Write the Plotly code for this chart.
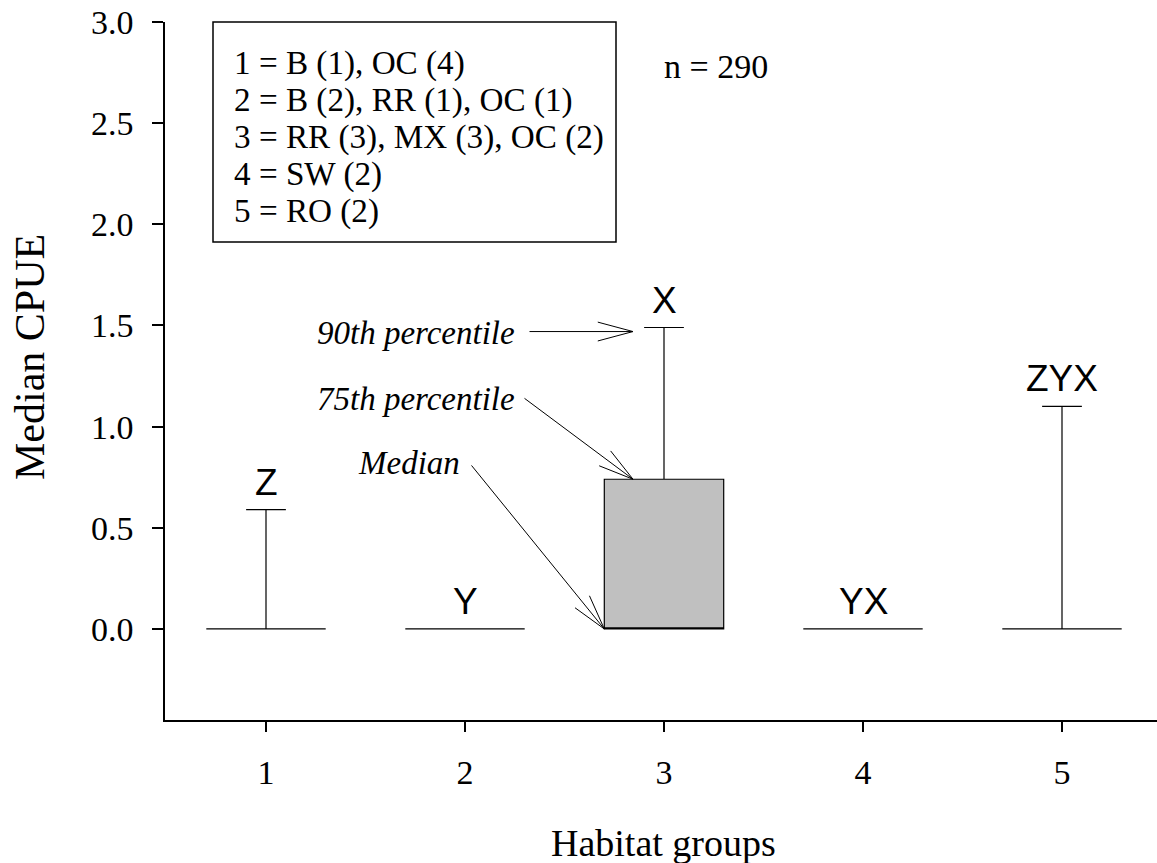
import math
import plotly.graph_objects as go

# ---------------- data ----------------
groups = [1, 2, 3, 4, 5]
group_labels = ["1", "2", "3", "4", "5"]
p10 = [0.0, 0.0, 0.0, 0.0, 0.0]
q1 = [0.0, 0.0, 0.0, 0.0, 0.0]
medians = [0.0, 0.0, 0.0, 0.0, 0.0]
q3 = [0.0, 0.0, 0.74, 0.0, 0.0]
p90 = [0.59, 0.0, 1.49, 0.0, 1.10]
sig_letters = ["Z", "Y", "X", "YX", "ZYX"]
y_ticks = [0.0, 0.5, 1.0, 1.5, 2.0, 2.5, 3.0]
y_tick_labels = ["0.0", "0.5", "1.0", "1.5", "2.0", "2.5", "3.0"]
key_lines = [
    "1 = B (1), OC (4)",
    "2 = B (2), RR (1), OC (1)",
    "3 = RR (3), MX (3), OC (2)",
    "4 = SW (2)",
    "5 = RO (2)",
]
n_text = "n = 290"

SERIF = "Liberation Serif, Times New Roman, serif"
SANS = "Liberation Sans, Arial, sans-serif"

# the page body margin is removed (post_script), so figure == page
W, H = 1157, 863
PL, PR, PT, PB = 165, 1157, 22, 720          # plot area in page pixels
ML, MT = PL, PT
MR, MB = W - PR, H - PB
PW, PH = PR - PL, PB - PT
BOX_W = 0.6
UNIT_X = 199.0


def px(xp):
    return (xp - PL) / PW


def py(yp):
    return (PB - yp) / PH


fig = go.Figure()
fig.add_trace(go.Box(
    x=groups, q1=q1, median=medians, q3=q3,
    lowerfence=p10, upperfence=p90,
    width=BOX_W, whiskerwidth=0.333,
    fillcolor="#c0c0c0",
    line=dict(color="black", width=1.2),
    boxpoints=False, showlegend=False, hoverinfo="skip",
))

annotations = []
# significance letters above the 90th percentile
for g, top, lab in zip(groups, p90, sig_letters):
    annotations.append(dict(
        x=g, y=top, xref="x", yref="y", text=lab, showarrow=False,
        yanchor="bottom", yshift=5, font=dict(family=SANS, size=37, color="black"),
    ))

# key box text
key_y = [63, 100, 137, 174, 211]
for line, yp in zip(key_lines, key_y):
    annotations.append(dict(
        x=px(232), y=py(yp), xref="paper", yref="paper", text=line,
        showarrow=False, xanchor="left", yanchor="middle",
        font=dict(family=SERIF, size=33.2, color="black"),
    ))

annotations.append(dict(
    x=px(716), y=py(66), xref="paper", yref="paper", text=n_text,
    showarrow=False, xanchor="center", yanchor="middle",
    font=dict(family=SERIF, size=34, color="black"),
))

# axis titles
annotations.append(dict(
    x=px(30), y=py(357), xref="paper", yref="paper", text="Median CPUE",
    showarrow=False, textangle=-90, xanchor="center", yanchor="middle",
    font=dict(family=SERIF, size=42, color="black"),
))
annotations.append(dict(
    x=px(663), y=py(843), xref="paper", yref="paper", text="Habitat groups",
    showarrow=False, xanchor="center", yanchor="middle",
    font=dict(family=SERIF, size=38, color="black"),
))

# explanatory italic labels with arrows, pointing at the group-3 box
tip_x = 3 - (664 - 633) / UNIT_X
explain = [
    ("<i>90th percentile</i>", 333, 517, (tip_x, p90[2] - 0.02), (-105, 0)),
    ("<i>75th percentile</i>", 399, 517, (tip_x, q3[2]), (-110, -82)),
    ("<i>Median</i>", 463, 462, (3 - BOX_W / 2, medians[2]), (-134, -165)),
]
for text, ty, tx_right, (ax_d, ay_d), (sx, sy) in explain:
    annotations.append(dict(
        x=px(tx_right), y=py(ty), xref="paper", yref="paper", text=text,
        showarrow=False, xanchor="right", yanchor="middle",
        font=dict(family=SERIF, size=33, color="black"),
    ))
    # shaft
    annotations.append(dict(
        x=ax_d, y=ay_d, xref="x", yref="y", text="", showarrow=True,
        ax=sx, ay=sy, arrowhead=0, arrowwidth=1, arrowcolor="black", standoff=0,
    ))
    # open arrowhead (two barbs)
    L = math.hypot(sx, sy)
    ux, uy = sx / L, sy / L
    for ang in (math.radians(15), -math.radians(15)):
        bx = ux * math.cos(ang) - uy * math.sin(ang)
        by = ux * math.sin(ang) + uy * math.cos(ang)
        annotations.append(dict(
            x=ax_d, y=ay_d, xref="x", yref="y", text="", showarrow=True,
            ax=bx * 38, ay=by * 38, arrowhead=0, arrowwidth=1,
            arrowcolor="black", standoff=0,
        ))

shapes = [dict(
    type="rect", xref="paper", yref="paper",
    x0=px(213), x1=px(616), y0=py(242), y1=py(22),
    line=dict(color="black", width=1.5), fillcolor="rgba(0,0,0,0)",
)]

x_lo = 1 - (266 - PL) / UNIT_X
x_hi = x_lo + PW / UNIT_X

fig.update_layout(
    width=W, height=H,
    margin=dict(l=ML, r=MR, t=MT, b=MB, autoexpand=False),
    paper_bgcolor="white", plot_bgcolor="white",
    showlegend=False,
    annotations=annotations, shapes=shapes,
    xaxis=dict(
        range=[x_lo, x_hi], tickvals=groups, ticktext=group_labels,
        ticks="outside", ticklen=10, tickwidth=1.5, tickcolor="black",
        showline=True, linecolor="black", linewidth=1.5,
        showgrid=False, zeroline=False, ticklabelstandoff=11,
        ticklabeloverflow="allow",
        tickfont=dict(family=SERIF, size=34, color="black"),
    ),
    yaxis=dict(
        range=[-0.45, 3.0], tickvals=y_ticks, ticktext=y_tick_labels,
        ticks="outside", ticklen=11, tickwidth=1.5, tickcolor="black",
        showline=True, linecolor="black", linewidth=1.5,
        showgrid=False, zeroline=False, ticklabelstandoff=12,
        ticklabeloverflow="allow",
        tickfont=dict(family=SERIF, size=34, color="black"),
    ),
)

fig.write_html(
    "out.html",
    config={"displayModeBar": False},
    post_script="document.body.style.margin='0px';document.body.style.overflow='hidden';",
)
